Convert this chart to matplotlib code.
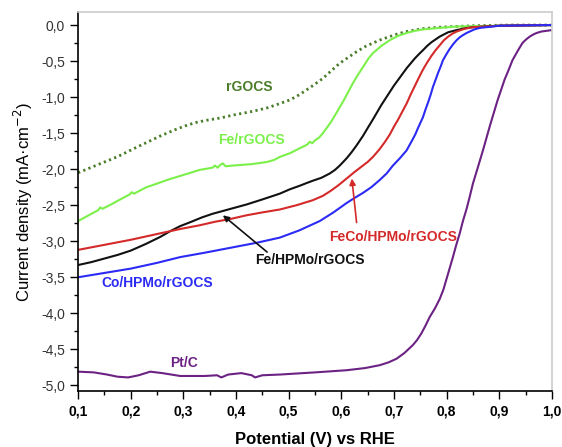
import numpy as np
import matplotlib
matplotlib.use("Agg")
import matplotlib.pyplot as plt
from matplotlib.ticker import MultipleLocator, FuncFormatter

plt.rcParams['font.family'] = ['Liberation Sans', 'DejaVu Sans']

# polarisation curves, potential (V vs RHE) and current density (mA cm-2)
rgocs_v = [0.10, 0.14, 0.174, 0.21, 0.256, 0.285, 0.307, 0.325, 0.345, 0.37, 0.394, 0.43,
           0.459, 0.483, 0.502, 0.515, 0.53, 0.548, 0.565, 0.58, 0.597, 0.613, 0.629, 0.645,
           0.66, 0.676, 0.692, 0.708, 0.724, 0.74, 0.755, 0.787, 0.85, 0.92, 1.0]
rgocs_j = [-2.05, -1.93, -1.83, -1.70, -1.54, -1.45, -1.39, -1.35, -1.32, -1.29, -1.25, -1.20,
           -1.15, -1.09, -1.04, -0.99, -0.92, -0.83, -0.74, -0.64, -0.53, -0.45, -0.37, -0.30,
           -0.25, -0.20, -0.16, -0.12, -0.09, -0.07, -0.05, -0.03, -0.01, 0.0, 0.0]

fe_v = [0.10, 0.12, 0.138, 0.142, 0.146, 0.16, 0.18, 0.198, 0.202, 0.206, 0.23, 0.25, 0.269,
        0.30, 0.331, 0.355, 0.36, 0.365, 0.37, 0.375, 0.38, 0.394, 0.43, 0.459, 0.473, 0.483,
        0.502, 0.521, 0.535, 0.54, 0.545, 0.55, 0.558, 0.565, 0.572, 0.58, 0.589, 0.597,
        0.605, 0.613, 0.621, 0.629, 0.637, 0.645, 0.652, 0.66, 0.668, 0.676, 0.684, 0.692,
        0.708, 0.724, 0.74, 0.755, 0.787, 0.819, 0.9, 1.0]
fe_j = [-2.72, -2.64, -2.57, -2.53, -2.55, -2.50, -2.42, -2.35, -2.32, -2.34, -2.25, -2.20,
        -2.15, -2.08, -2.01, -1.98, -1.95, -1.98, -1.94, -1.92, -1.96, -1.95, -1.93, -1.90,
        -1.87, -1.83, -1.78, -1.71, -1.66, -1.62, -1.64, -1.60, -1.56, -1.50, -1.43, -1.35,
        -1.24, -1.14, -1.04, -0.93, -0.82, -0.72, -0.63, -0.54, -0.46, -0.39, -0.34, -0.29,
        -0.25, -0.21, -0.15, -0.11, -0.08, -0.06, -0.04, -0.02, -0.01, 0.0]

fehpmo_v = [0.10, 0.125, 0.15, 0.175, 0.20, 0.228, 0.256, 0.275, 0.294, 0.315, 0.335, 0.355,
            0.375, 0.40, 0.42, 0.45, 0.483, 0.502, 0.521, 0.535, 0.546, 0.562, 0.578, 0.588,
            0.597, 0.61, 0.62, 0.629, 0.641, 0.65, 0.66, 0.668, 0.676, 0.684, 0.692, 0.70,
            0.708, 0.716, 0.724, 0.732, 0.74, 0.748, 0.755, 0.763, 0.771, 0.779, 0.787,
            0.803, 0.819, 0.835, 0.85, 0.9, 1.0]
fehpmo_j = [-3.33, -3.29, -3.24, -3.19, -3.13, -3.04, -2.94, -2.86, -2.79, -2.73, -2.67, -2.62,
            -2.58, -2.53, -2.49, -2.42, -2.34, -2.28, -2.23, -2.19, -2.16, -2.12, -2.06, -2.01,
            -1.95, -1.85, -1.76, -1.67, -1.54, -1.43, -1.31, -1.21, -1.11, -1.02, -0.93, -0.84,
            -0.76, -0.68, -0.60, -0.53, -0.46, -0.40, -0.35, -0.29, -0.24, -0.20, -0.16,
            -0.10, -0.07, -0.045, -0.03, -0.01, 0.0]

feco_v = [0.10, 0.15, 0.20, 0.25, 0.294, 0.33, 0.36, 0.39, 0.42, 0.45, 0.483, 0.515, 0.546,
          0.565, 0.58, 0.595, 0.61, 0.625, 0.641, 0.65, 0.66, 0.666, 0.673, 0.683, 0.692,
          0.70, 0.708, 0.716, 0.724, 0.732, 0.74, 0.748, 0.755, 0.763, 0.771, 0.779, 0.787,
          0.795, 0.803, 0.811, 0.819, 0.835, 0.85, 0.9, 1.0]
feco_j = [-3.12, -3.05, -2.98, -2.90, -2.83, -2.78, -2.73, -2.69, -2.64, -2.60, -2.56, -2.50,
          -2.43, -2.37, -2.30, -2.22, -2.13, -2.04, -1.95, -1.90, -1.83, -1.78, -1.72, -1.62,
          -1.52, -1.41, -1.31, -1.20, -1.09, -0.96, -0.84, -0.72, -0.62, -0.52, -0.43, -0.35,
          -0.28, -0.21, -0.16, -0.12, -0.09, -0.05, -0.03, -0.01, 0.0]

cohpmo_v = [0.10, 0.15, 0.20, 0.25, 0.294, 0.34, 0.39, 0.44, 0.483, 0.52, 0.559, 0.585,
            0.61, 0.625, 0.641, 0.657, 0.673, 0.686, 0.698, 0.711, 0.724, 0.73, 0.736, 0.741,
            0.745, 0.75, 0.755, 0.76, 0.765, 0.77, 0.774, 0.779, 0.784, 0.789, 0.793, 0.80,
            0.806, 0.812, 0.819, 0.825, 0.831, 0.838, 0.844, 0.853, 0.863, 0.9, 1.0]
cohpmo_j = [-3.50, -3.44, -3.38, -3.30, -3.22, -3.16, -3.09, -3.02, -2.95, -2.85, -2.72, -2.60,
            -2.47, -2.40, -2.33, -2.25, -2.15, -2.06, -1.95, -1.85, -1.74, -1.66, -1.58, -1.51,
            -1.44, -1.36, -1.28, -1.17, -1.07, -0.96, -0.86, -0.76, -0.66, -0.57, -0.49, -0.40,
            -0.33, -0.27, -0.21, -0.17, -0.14, -0.11, -0.09, -0.06, -0.04, -0.01, 0.0]

ptc_v = [0.10, 0.13, 0.155, 0.175, 0.195, 0.215, 0.237, 0.26, 0.294, 0.34, 0.364, 0.372,
         0.385, 0.41, 0.43, 0.436, 0.45, 0.483, 0.55, 0.61, 0.645, 0.673, 0.69, 0.705, 0.72,
         0.736, 0.744, 0.752, 0.76, 0.768, 0.778, 0.787, 0.794, 0.80, 0.806, 0.812, 0.818,
         0.825, 0.831, 0.838, 0.844, 0.850, 0.86, 0.869, 0.876, 0.883, 0.89, 0.897, 0.904,
         0.910, 0.918, 0.925, 0.935, 0.944, 0.951, 0.958, 0.965, 0.971, 0.98, 0.99, 1.0]
ptc_j = [-4.81, -4.82, -4.85, -4.88, -4.89, -4.86, -4.81, -4.83, -4.87, -4.87, -4.86, -4.89,
         -4.85, -4.83, -4.86, -4.89, -4.86, -4.85, -4.82, -4.79, -4.76, -4.72, -4.68, -4.63,
         -4.55, -4.44, -4.37, -4.28, -4.17, -4.05, -3.93, -3.80, -3.67, -3.52, -3.37, -3.22,
         -3.06, -2.89, -2.72, -2.55, -2.38, -2.20, -1.96, -1.74, -1.56, -1.38, -1.21, -1.04,
         -0.89, -0.76, -0.62, -0.49, -0.36, -0.25, -0.20, -0.16, -0.13, -0.11, -0.09, -0.08,
         -0.07]

fig = plt.figure(figsize=(5.62, 4.47), dpi=100)
ax = fig.add_axes([0.139, 0.125, 0.843, 0.848])

line_kw = dict(lw=1.5, solid_joinstyle='round', solid_capstyle='round')
ax.plot(rgocs_v, rgocs_j, color='#4b7d2b', lw=2.0, dashes=(0.8, 1.2))
ax.plot(fe_v, fe_j, color='#7cf04a', **line_kw)
ax.plot(fehpmo_v, fehpmo_j, color='#111111', **line_kw)
ax.plot(feco_v, feco_j, color='#d42a2a', **line_kw)
ax.plot(cohpmo_v, cohpmo_j, color='#2b2bf5', **line_kw)
ax.plot(ptc_v, ptc_j, color='#6b2283', **line_kw)

lab = dict(fontsize=10, fontweight='bold', ha='center', va='center')
ax.text(0.426, -0.86, 'rGOCS', color='#4b7d2b', **lab)
ax.text(0.43, -1.60, 'Fe/rGOCS', color='#7cf04a', **lab)
ax.text(0.540, -3.26, 'Fe/HPMo/rGOCS', color='#111111', **lab)
ax.text(0.698, -2.94, 'FeCo/HPMo/rGOCS', color='#d42a2a', **lab)
ax.text(0.25, -3.58, 'Co/HPMo/rGOCS', color='#2b2bf5', **lab)
ax.text(0.301, -4.69, 'Pt/C', color='#6b2283', **lab)

ax.annotate('', xy=(0.375, -2.64), xytext=(0.459, -3.15),
            arrowprops=dict(arrowstyle='-|>', color='#111111', lw=1.2,
                            mutation_scale=9, shrinkA=0, shrinkB=0))
ax.annotate('', xy=(0.620, -2.13), xytext=(0.629, -2.74),
            arrowprops=dict(arrowstyle='-|>', color='#d42a2a', lw=1.2,
                            mutation_scale=9, shrinkA=0, shrinkB=0))

ax.set_xlim(0.1, 1.0)
ax.set_ylim(-5.08, 0.18)
ax.xaxis.set_major_locator(MultipleLocator(0.1))
ax.xaxis.set_minor_locator(MultipleLocator(0.05))
ax.yaxis.set_major_locator(MultipleLocator(0.5))
ax.yaxis.set_minor_locator(MultipleLocator(0.25))
comma = FuncFormatter(lambda v, p: ('%.1f' % v).replace('.', ',').replace('-0,0', '0,0'))
ax.xaxis.set_major_formatter(comma)
ax.yaxis.set_major_formatter(comma)

ax.tick_params(which='both', direction='out', top=False, right=False, width=1.0)
ax.tick_params(which='major', length=6, labelsize=10)
ax.tick_params(which='minor', length=3)
ax.tick_params(axis='y', labelcolor='#333333')
for t in ax.get_xticklabels():
    t.set_fontweight('bold')
for s in ['left', 'bottom']:
    ax.spines[s].set_linewidth(1.2)
for s in ['top', 'right']:
    ax.spines[s].set_color('#cccccc')
    ax.spines[s].set_linewidth(1.2)

ax.set_xlabel('Potential (V) vs RHE', fontsize=12, fontweight='bold', labelpad=10)
ax.set_ylabel('Current density (mA·cm$^{-2}$)', fontsize=12, labelpad=4)

fig.savefig('out.png', dpi=100)
